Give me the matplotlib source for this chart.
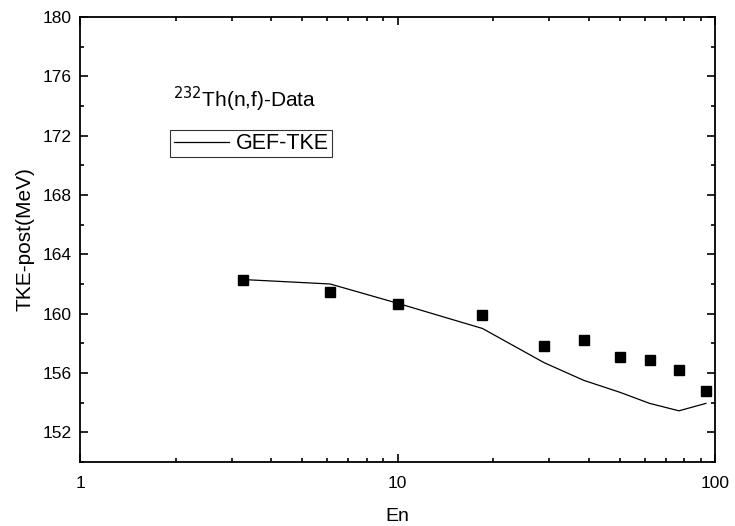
import matplotlib
matplotlib.use('Agg')
import matplotlib.pyplot as plt
from matplotlib.ticker import MultipleLocator, LogLocator, NullFormatter, FixedLocator

plt.rcParams['font.family'] = ['Liberation Sans', 'DejaVu Sans']

# 232Th(n,f) experimental data
en_data = [3.26, 6.13, 10.0, 18.5, 28.9, 38.6, 50.1, 62.2, 76.9, 93.5]
tke_data = [162.25, 161.45, 160.65, 159.9, 157.85, 158.25, 157.05, 156.85, 156.2, 154.8]

# GEF calculation
en_gef = [3.26, 6.13, 10.0, 18.5, 28.9, 38.6, 50.1, 62.2, 76.9, 93.5]
tke_gef = [162.3, 162.0, 160.7, 159.0, 156.7, 155.5, 154.7, 153.95, 153.45, 153.95]

fig = plt.figure(figsize=(7.35, 5.26), dpi=100)
ax = fig.add_axes([0.109, 0.1217, 0.864, 0.846])

ax.plot(en_data, tke_data, 's', color='black', markersize=7.5, linestyle='none')
ax.plot(en_gef, tke_gef, '-', color='black', linewidth=0.9, label='GEF-TKE')

ax.set_xscale('log')
ax.set_xlim(1, 100)
ax.set_ylim(150, 180)
ax.xaxis.set_major_locator(FixedLocator([1, 10, 100]))
ax.xaxis.set_major_formatter(plt.FuncFormatter(lambda v, p: '%g' % v))
ax.xaxis.set_minor_locator(LogLocator(base=10, subs=range(2, 10)))
ax.xaxis.set_minor_formatter(NullFormatter())
ax.yaxis.set_major_locator(FixedLocator([152, 156, 160, 164, 168, 172, 176, 180]))
ax.yaxis.set_minor_locator(MultipleLocator(2))

ax.tick_params(which='both', direction='in', top=True, right=True, labelsize=12.5, width=1.2)
ax.tick_params(which='major', length=6)
ax.tick_params(which='minor', length=3)
ax.tick_params(axis='x', which='major', pad=10)
ax.tick_params(axis='y', which='major', pad=6)
for s in ax.spines.values():
    s.set_linewidth(1.3)

ax.set_xlabel('En', fontsize=14, labelpad=12)
ax.set_ylabel('TKE-post(MeV)', fontsize=15, labelpad=6)

ax.text(0.146, 0.798, r'$^{232}$Th(n,f)-Data', transform=ax.transAxes, fontsize=15)
leg = ax.legend(loc='upper left', bbox_to_anchor=(0.142, 0.746), fontsize=15.5,
                frameon=True, fancybox=False, edgecolor='black', handlelength=2.6,
                borderpad=0.15, handletextpad=0.3, borderaxespad=0)
leg.get_frame().set_linewidth(0.8)

fig.savefig('out.png', dpi=100)
